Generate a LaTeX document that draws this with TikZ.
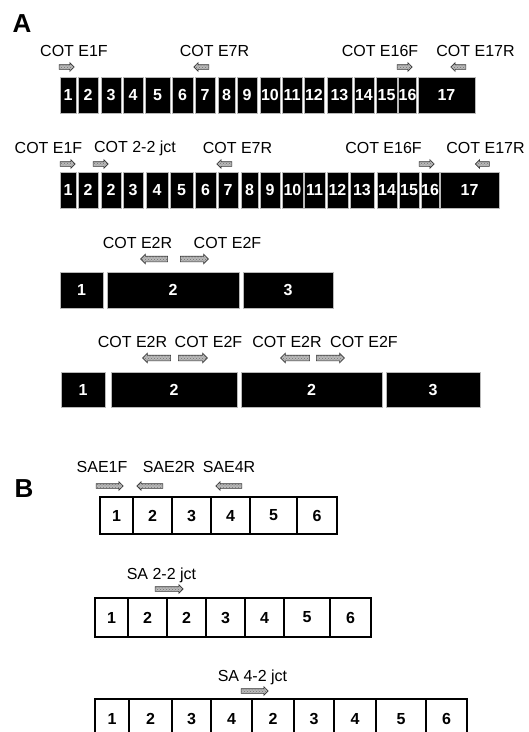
\documentclass[tikz,border=0pt]{standalone}
\usepackage{fontspec}
\setmainfont{Liberation Sans}
\usetikzlibrary{shapes.arrows,patterns}
\tikzset{
  lab/.style={inner sep=0pt, font=\fontsize{16}{19}\selectfont},
  panel/.style={inner sep=0pt, font=\fontsize{26}{30}\selectfont\bfseries},
  exonA/.style={draw=gray!55, line width=0.8pt, fill=black, text=white, inner sep=0pt,
     font=\fontsize{16}{19}\selectfont\bfseries},
  exonB/.style={draw=black, line width=1.5pt, fill=white, text=black, inner sep=0pt,
     font=\fontsize{16}{19}\selectfont\bfseries},
  prim/.style={single arrow, draw=black!80, line width=0.6pt, fill=gray!55,
     postaction={pattern=crosshatch dots, pattern color=gray!90!black},
     inner xsep=0pt, inner ysep=2pt, single arrow head extend=2pt, anchor=center},
  primbig/.style={prim, inner ysep=2.5pt, single arrow head extend=2pt},
  primR/.style={prim},
  primL/.style={prim, shape border rotate=180},
  primbigR/.style={primbig},
  primbigL/.style={primbig, shape border rotate=180},
}
\begin{document}
\begin{tikzpicture}[x=1pt,y=-1pt]
\useasboundingbox (0,0) rectangle (529,732);

% ---------------- Panel A ----------------
\node[panel] (pA) at (22,24) {A};

% Row A1
\foreach \a/\b/\t [count=\i] in {60/76/1,78/98/2,101/121/3,123/143/4,145/170/5,172/193/6,
   195/215/7,218/235/8,237/257/9,260/280/10,282/302/11,304/324/12,327/352/13,354/374/14,
   376/397/15,399/416/16,418/475/17}
  \node[exonA, minimum width={\b-\a}, minimum height=36] (ra\i) at ({(\a+\b)/2},95) {\t};
\node[lab] (la1) at (74,51) {COT E1F};
\node[lab] (la2) at (214.5,51) {COT E7R};
\node[lab] (la3) at (380,51) {COT E16F};
\node[lab] (la4) at (475.5,51) {COT E17R};
\node[primR, minimum height=15] (pa1) at (65.5,67) {};
\node[primL, minimum height=15] (pa2) at (202.5,67) {};
\node[primR, minimum height=15] (pa3) at (403.5,67) {};
\node[primL, minimum height=15] (pa4) at (459.5,67) {};

% Row A2
\foreach \a/\b/\t [count=\i] in {60/76/1,78/98/2,101/121/2,123/143/3,146/168/4,170/193/5,
   195/216/6,218/238/7,241/258/8,260/280/9,282/303/10,304/325/11,327/348/12,350/374/13,
   377/397/14,399/419/15,422/438/16,440/499/17}
  \node[exonA, minimum width={\b-\a}, minimum height=36] (rb\i) at ({(\a+\b)/2},190) {\t};
\node[lab] (lb1) at (48.5,148) {COT E1F};
\node[lab] (lb2) at (135,148) {COT 2-2 jct};
\node[lab] (lb3) at (237.5,148) {COT E7R};
\node[lab] (lb4) at (383.5,148) {COT E16F};
\node[lab] (lb5) at (485.5,148) {COT E17R};
\node[primR, minimum height=15] (pb1) at (66.5,164) {};
\node[primR, minimum height=15] (pb2) at (99.5,164) {};
\node[primL, minimum height=15] (pb3) at (225.5,164) {};
\node[primR, minimum height=15] (pb4) at (425.5,164) {};
\node[primL, minimum height=14] (pb5) at (483.5,164) {};

% Row A3
\foreach \a/\b/\t [count=\i] in {60/103/1,107/239/2,243/333/3}
  \node[exonA, minimum width={\b-\a}, minimum height=36] (rc\i) at ({(\a+\b)/2},290) {\t};
\node[lab] (lc1) at (137.5,243) {COT E2R};
\node[lab] (lc2) at (227.5,243) {COT E2F};
\node[primbigL, minimum height=27] (pc1) at (155.5,259) {};
\node[primbigR, minimum height=28] (pc2) at (193,259) {};

% Row A4
\foreach \a/\b/\t [count=\i] in {61/105/1,111/237/2,241/382/2,386/480/3}
  \node[exonA, minimum width={\b-\a}, minimum height=35] (rd\i) at ({(\a+\b)/2},389.5) {\t};
\node[lab] (ld1) at (132.5,342) {COT E2R};
\node[lab] (ld2) at (208.5,342) {COT E2F};
\node[lab] (ld3) at (287,342) {COT E2R};
\node[lab] (ld4) at (364,342) {COT E2F};
\node[primbigL, minimum height=28] (pd1) at (158,358) {};
\node[primbigR, minimum height=29] (pd2) at (191.5,358) {};
\node[primbigL, minimum height=29] (pd3) at (296.5,358) {};
\node[primbigR, minimum height=28] (pd4) at (329,358) {};

% ---------------- Panel B ----------------
\node[panel] (pB) at (24,488.5) {B};

% Row B1
\foreach \a/\b/\t [count=\i] in {100/133/1,133/172/2,172/211/3,211/250/4,250/297/5,297/337/6}
  \node[exonB, minimum width={\b-\a}, minimum height=37] (re\i) at ({(\a+\b)/2},515.5) {\t};
\node[lab] (le1) at (102,467) {SAE1F};
\node[lab] (le2) at (169,467) {SAE2R};
\node[lab] (le3) at (229,467) {SAE4R};
\node[primR, minimum height=27] (pe1) at (108.5,486) {};
\node[primL, minimum height=26] (pe2) at (151,486) {};
\node[primL, minimum height=26] (pe3) at (230,486) {};

% Row B2
\foreach \a/\b/\t [count=\i] in {95/128/1,128/167/2,167/206/2,206/245/3,245/284/4,284/330/5,330/371/6}
  \node[exonB, minimum width={\b-\a}, minimum height=39] (rf\i) at ({(\a+\b)/2},617.5) {\t};
\node[lab] (lf1) at (161.5,575) {SA 2-2 jct};
\node[primR, minimum height=28] (pf1) at (168,589) {};

% Row B3
\foreach \a/\b/\t [count=\i] in {95/129/1,129/172/2,172/211/3,211/252/4,252/294/2,294/334/3,
   334/376/4,376/426/5,426/467/6}
  \node[exonB, minimum width={\b-\a}, minimum height=40] (rg\i) at ({(\a+\b)/2},719) {\t};
\node[lab] (lg1) at (252.5,677) {SA 4-2 jct};
\node[primR, minimum height=27] (pg1) at (253.5,691) {};
\end{tikzpicture}
\end{document}
